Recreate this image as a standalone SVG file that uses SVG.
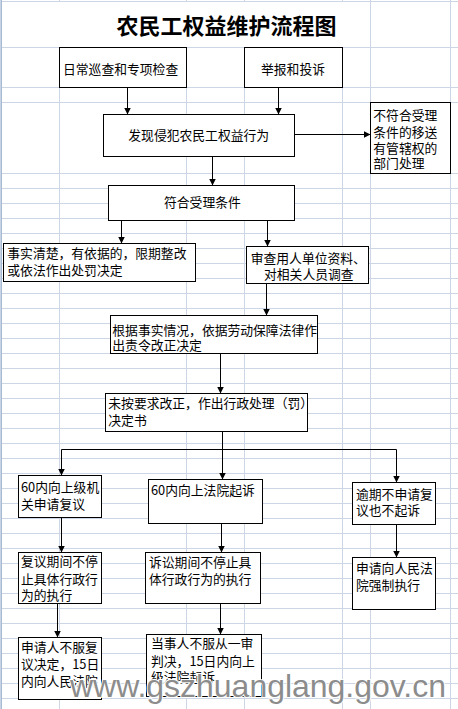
<svg xmlns="http://www.w3.org/2000/svg" width="458" height="709" viewBox="0 0 458 709">
<style>
  .grid line{stroke:#cdd6e4;stroke-width:1}
  .box{fill:#ffffff;stroke:#000000;stroke-width:1}
  .t{font-family:"Noto Sans CJK SC","Noto Sans",sans-serif;font-size:12.8px;fill:#000000}
  .title{font-family:"Noto Sans CJK SC","Noto Sans",sans-serif;font-size:22px;font-weight:bold;fill:#000000}
  .conn line,.conn path{stroke:#000000;stroke-width:1;fill:none}
  .wm{font-family:"Liberation Sans",Arial,sans-serif;font-size:32px;fill:#8c8c8c;stroke:#ffffff;stroke-width:2;paint-order:stroke}
</style>
<defs>
  <marker id="ah" markerUnits="userSpaceOnUse" markerWidth="7" markerHeight="7" refX="7" refY="3.5" orient="auto">
    <path d="M0,0 L7,3.5 L0,7 z" fill="#000000"/>
  </marker>
</defs>
<rect x="0" y="0" width="458" height="709" fill="#ffffff"/>
<g class="grid" id="grid">
  <line x1="0" y1="1.5" x2="458" y2="1.5"/>
  <line x1="59.5" y1="0" x2="59.5" y2="1.5"/>
  <line x1="186.5" y1="0" x2="186.5" y2="1.5"/>
  <line x1="244.5" y1="0" x2="244.5" y2="1.5"/>
  <line x1="342.5" y1="0" x2="342.5" y2="1.5"/>
  <line x1="370.5" y1="0" x2="370.5" y2="709"/>
  <line x1="450.5" y1="0" x2="450.5" y2="709"/>
  <line x1="59.5" y1="47.5" x2="59.5" y2="709"/>
  <line x1="186.5" y1="47.5" x2="186.5" y2="709"/>
  <line x1="244.5" y1="47.5" x2="244.5" y2="709"/>
  <line x1="342.5" y1="47.5" x2="342.5" y2="709"/>
  <line x1="0" y1="47.5" x2="458" y2="47.5"/>
  <line x1="0" y1="87.5" x2="458" y2="87.5"/>
  <line x1="0" y1="102.5" x2="458" y2="102.5"/>
  <line x1="0" y1="173.5" x2="458" y2="173.5"/>
  <line x1="0" y1="188.5" x2="458" y2="188.5"/>
  <line x1="0" y1="203.5" x2="458" y2="203.5"/>
  <line x1="0" y1="218.5" x2="458" y2="218.5"/>
  <line x1="0" y1="233.5" x2="458" y2="233.5"/>
  <line x1="0" y1="248.5" x2="458" y2="248.5"/>
  <line x1="0" y1="263.5" x2="458" y2="263.5"/>
  <line x1="0" y1="278.5" x2="458" y2="278.5"/>
  <line x1="0" y1="293.5" x2="458" y2="293.5"/>
  <line x1="0" y1="308.5" x2="458" y2="308.5"/>
  <line x1="0" y1="323.5" x2="458" y2="323.5"/>
  <line x1="0" y1="338.5" x2="458" y2="338.5"/>
  <line x1="0" y1="353.5" x2="458" y2="353.5"/>
  <line x1="0" y1="368.5" x2="458" y2="368.5"/>
  <line x1="0" y1="383.5" x2="458" y2="383.5"/>
  <line x1="0" y1="398.5" x2="458" y2="398.5"/>
  <line x1="0" y1="413.5" x2="458" y2="413.5"/>
  <line x1="0" y1="428.5" x2="458" y2="428.5"/>
  <line x1="0" y1="443.5" x2="458" y2="443.5"/>
  <line x1="0" y1="458.5" x2="458" y2="458.5"/>
  <line x1="0" y1="473.5" x2="458" y2="473.5"/>
  <line x1="0" y1="488.5" x2="458" y2="488.5"/>
  <line x1="0" y1="503.5" x2="458" y2="503.5"/>
  <line x1="0" y1="518.5" x2="458" y2="518.5"/>
  <line x1="0" y1="533.5" x2="458" y2="533.5"/>
  <line x1="0" y1="548.5" x2="458" y2="548.5"/>
  <line x1="0" y1="563.5" x2="458" y2="563.5"/>
  <line x1="0" y1="578.5" x2="458" y2="578.5"/>
  <line x1="0" y1="593.5" x2="458" y2="593.5"/>
  <line x1="0" y1="608.5" x2="458" y2="608.5"/>
  <line x1="0" y1="623.5" x2="458" y2="623.5"/>
  <line x1="0" y1="638.5" x2="458" y2="638.5"/>
  <line x1="0" y1="653.5" x2="458" y2="653.5"/>
  <line x1="0" y1="668.5" x2="458" y2="668.5"/>
  <line x1="0" y1="683.5" x2="458" y2="683.5"/>
  <line x1="0" y1="698.5" x2="458" y2="698.5"/>
  <line x1="0.5" y1="0" x2="0.5" y2="709" style="stroke:#c8d4e4"/>
  <line x1="1.5" y1="0" x2="1.5" y2="709" style="stroke:#a7bbd5"/>
</g>
<text class="title" x="116.5" y="33.5">农民工权益维护流程图</text>

<g class="conn" id="connectors">
  <line x1="127.5" y1="87.5" x2="127.5" y2="114.5" marker-end="url(#ah)"/>
  <line x1="278.5" y1="87.5" x2="278.5" y2="114.5" marker-end="url(#ah)"/>
  <line x1="294.5" y1="134.5" x2="370.5" y2="134.5" marker-end="url(#ah)"/>
  <line x1="212.5" y1="156.5" x2="212.5" y2="185.5" marker-end="url(#ah)"/>
  <line x1="121.5" y1="220.5" x2="121.5" y2="243.5" marker-end="url(#ah)"/>
  <line x1="267.5" y1="220.5" x2="267.5" y2="246.5" marker-end="url(#ah)"/>
  <line x1="266.5" y1="283.5" x2="266.5" y2="315.5" marker-end="url(#ah)"/>
  <line x1="220.5" y1="353.5" x2="220.5" y2="393.5" marker-end="url(#ah)"/>
  <path d="M222.5,431.5 V449.5 M61.5,449.5 H396.5"/>
  <line x1="61.5" y1="449.5" x2="61.5" y2="475.5" marker-end="url(#ah)"/>
  <line x1="222.5" y1="449.5" x2="222.5" y2="479.5" marker-end="url(#ah)"/>
  <line x1="396.5" y1="449.5" x2="396.5" y2="482.5" marker-end="url(#ah)"/>
  <line x1="61.5" y1="517.5" x2="61.5" y2="552.5" marker-end="url(#ah)"/>
  <line x1="221.5" y1="523.5" x2="221.5" y2="552.5" marker-end="url(#ah)"/>
  <line x1="396.5" y1="524.5" x2="396.5" y2="557.5" marker-end="url(#ah)"/>
  <line x1="57.5" y1="603.5" x2="57.5" y2="637.5" marker-end="url(#ah)"/>
  <line x1="220.5" y1="603.5" x2="220.5" y2="634.5" marker-end="url(#ah)"/>
</g>

<g id="n-xuncha"><rect class="box" x="59.5" y="47.5" width="127" height="40"/><text class="t" x="63" y="73.5">日常巡查和专项检查</text></g>
<g id="n-jubao"><rect class="box" x="244.5" y="47.5" width="98" height="40"/><text class="t" x="261" y="73.5">举报和投诉</text></g>
<g id="n-faxian"><rect class="box" x="103.5" y="114.5" width="191" height="42"/><text class="t" x="128.3" y="140">发现侵犯农民工权益行为</text></g>
<g id="n-bufuhe"><rect class="box" x="370.5" y="102.5" width="80" height="71"/>
  <text class="t" x="373.3" y="120">不符合受理</text>
  <text class="t" x="373.3" y="136.5">条件的移送</text>
  <text class="t" x="373.3" y="152.5">有管辖权的</text>
  <text class="t" x="373.3" y="167.5">部门处理</text></g>
<g id="n-fuhe"><rect class="box" x="108.5" y="185.5" width="186" height="35"/><text class="t" x="164" y="207">符合受理条件</text></g>
<g id="n-shishi"><rect class="box" x="3.5" y="243.5" width="192" height="38"/>
  <text class="t" x="7.3" y="257.7">事实清楚，有依据的，限期整改</text>
  <text class="t" x="7.3" y="275.2">或依法作出处罚决定</text></g>
<g id="n-shencha"><rect class="box" x="246.5" y="246.5" width="122" height="37"/>
  <text class="t" x="250.7" y="263">审查用人单位资料、</text>
  <text class="t" x="264" y="278.6">对相关人员调查</text></g>
<g id="n-genju"><rect class="box" x="110.5" y="315.5" width="207" height="38"/>
  <text class="t" x="112.3" y="334.5">根据事实情况，依据劳动保障法律作</text>
  <text class="t" x="112.3" y="349.5">出责令改正决定</text></g>
<g id="n-weian"><rect class="box" x="105.5" y="393.5" width="202" height="38"/>
  <text class="t" x="108.3" y="407.7">未按要求改正，作出行政处理（罚）</text>
  <text class="t" x="108.3" y="425">决定书</text></g>
<g id="n-fuyi"><rect class="box" x="18.5" y="475.5" width="83" height="42"/>
  <text class="t" x="21" y="491.6">60内向上级机</text>
  <text class="t" x="21" y="508.6">关申请复议</text></g>
<g id="n-qisu"><rect class="box" x="148.5" y="479.5" width="114" height="44"/>
  <text class="t" x="151" y="495">60内向上法院起诉</text></g>
<g id="n-yuqi"><rect class="box" x="352.5" y="482.5" width="83" height="42"/>
  <text class="t" x="356" y="498.6">逾期不申请复</text>
  <text class="t" x="356" y="514.6">议也不起诉</text></g>
<g id="n-fuyiqijian"><rect class="box" x="18.5" y="552.5" width="83" height="51"/>
  <text class="t" x="21" y="566.4">复议期间不停</text>
  <text class="t" x="21" y="583.9">止具体行政行</text>
  <text class="t" x="21" y="600">为的执行</text></g>
<g id="n-susong"><rect class="box" x="145.5" y="552.5" width="115" height="51"/>
  <text class="t" x="149" y="566.6">诉讼期间不停止具</text>
  <text class="t" x="149" y="583.9">体行政行为的执行</text></g>
<g id="n-qiangzhi"><rect class="box" x="352.5" y="557.5" width="83" height="52"/>
  <text class="t" x="356" y="573">申请向人民法</text>
  <text class="t" x="356" y="590">院强制执行</text></g>
<g id="n-bufu"><rect class="box" x="18.5" y="637.5" width="83" height="62"/>
  <text class="t" x="21" y="652">申请人不服复</text>
  <text class="t" x="21" y="669">议决定，15日</text>
  <text class="t" x="21" y="685.5">内向人民法院</text></g>
<g id="n-dangshiren"><rect class="box" x="146.5" y="634.5" width="115" height="62"/>
  <text class="t" x="151" y="648.2">当事人不服从一审</text>
  <text class="t" x="151" y="665.9">判决，15日内向上</text>
  <text class="t" x="151" y="682.2">级法院起诉</text></g>

<text class="wm" x="70" y="697" textLength="376" lengthAdjust="spacingAndGlyphs">www.gszhuanglang.gov.cn</text>
</svg>
